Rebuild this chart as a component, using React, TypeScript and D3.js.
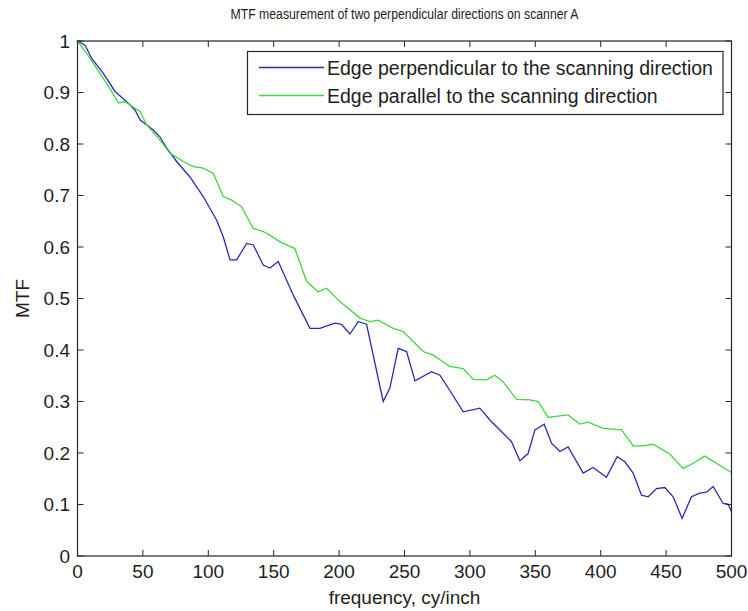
import React from "react";
import * as d3 from "d3";

const title = "MTF measurement of two perpendicular directions on scanner A";
const xLabel = "frequency, cy/inch";
const yLabel = "MTF";
const seriesNames = [
  "Edge perpendicular to the scanning direction",
  "Edge parallel to the scanning direction",
];
const xTicks = [0, 50, 100, 150, 200, 250, 300, 350, 400, 450, 500];
const yTicks = [0, 0.1, 0.2, 0.3, 0.4, 0.5, 0.6, 0.7, 0.8, 0.9, 1];

const perpFreq = [
  0, 5.7, 10.9, 19.7, 28.7, 37.6, 44, 47.8, 52.9, 57.9, 63, 68.2, 75.8, 86, 96.1,
  106.4, 111.4, 116.6, 121.7, 129.3, 134.4, 142, 147.1, 153.5, 164.9, 177.7, 185.3,
  196.8, 201.9, 208.3, 214.6, 221, 233.7, 238.8, 245.2, 251.6, 258, 270.7, 277.1,
  286, 294.9, 307.6, 315.3, 321.6, 331.8, 338.2, 344.5, 349.7, 356.8, 362.4, 368.8,
  375.1, 386.6, 394.2, 404.4, 412.6, 418.5, 424.8, 431.2, 436.3, 442.7, 449, 455.4,
  462.2, 469.4, 475.8, 480.9, 486, 493.6, 497.4, 500,
];
const perpMTF = [
  1.0, 0.992, 0.966, 0.937, 0.902, 0.882, 0.866, 0.847, 0.837, 0.827, 0.814, 0.792,
  0.766, 0.736, 0.698, 0.652, 0.62, 0.575, 0.575, 0.607, 0.604, 0.565, 0.559, 0.572,
  0.507, 0.442, 0.442, 0.452, 0.45, 0.431, 0.455, 0.45, 0.3, 0.326, 0.403, 0.397,
  0.34, 0.358, 0.351, 0.316, 0.28, 0.287, 0.264, 0.248, 0.222, 0.185, 0.199, 0.245,
  0.256, 0.219, 0.203, 0.212, 0.161, 0.172, 0.153, 0.193, 0.183, 0.161, 0.118, 0.115,
  0.131, 0.133, 0.115, 0.073, 0.115, 0.122, 0.124, 0.135, 0.102, 0.101, 0.086,
];

const paraFreq = [
  0, 7, 17.2, 24.8, 31.2, 36.3, 42.6, 47.8, 52.9, 63, 70.7, 80.9, 88.5, 96.1, 103.8,
  111.4, 117.9, 125.5, 134.4, 142, 147.1, 154.8, 166.2, 175.2, 184, 190.5, 200.6, 216,
  223.6, 229.9, 241.4, 249, 264.3, 271.9, 284.7, 294.9, 302.5, 312.7, 319.1, 325.4,
  335.7, 345.8, 352.2, 359.8, 368.8, 375.1, 384.1, 390.4, 401.9, 416, 424.8, 432.4,
  440.1, 452.8, 463, 470.7, 479.6, 488.5, 500,
];
const paraMTF = [
  1.0, 0.976, 0.937, 0.908, 0.88, 0.882, 0.872, 0.863, 0.837, 0.808, 0.782, 0.766,
  0.756, 0.753, 0.743, 0.698, 0.691, 0.678, 0.636, 0.63, 0.623, 0.61, 0.597, 0.533,
  0.513, 0.52, 0.494, 0.462, 0.455, 0.458, 0.442, 0.436, 0.397, 0.39, 0.368, 0.364,
  0.343, 0.342, 0.351, 0.338, 0.304, 0.303, 0.3, 0.269, 0.272, 0.274, 0.256, 0.26,
  0.248, 0.245, 0.214, 0.214, 0.217, 0.198, 0.17, 0.18, 0.194, 0.18, 0.162,
];

const colors = ["#2a2ab4", "#3cd83c"];

const W = 748;
const H = 611;
const L = 77.5, R = 731.5, T = 41, B = 556;
const FONT = "'Liberation Sans', Arial, sans-serif";

export default function App() {
  const x = d3.scaleLinear().domain([0, 500]).range([L, R]);
  const y = d3.scaleLinear().domain([0, 1]).range([B, T]);
  const line = d3.line<[number, number]>().x((d) => x(d[0])).y((d) => y(d[1]));
  const perp: [number, number][] = perpFreq.map((f, i) => [f, perpMTF[i]]);
  const para: [number, number][] = paraFreq.map((f, i) => [f, paraMTF[i]]);
  const tk = 6;
  const axisColor = "#262626";
  const textColor = "#1e1e1e";

  return (
    <svg
      width={W}
      height={H}
      style={{ position: "absolute", left: 0, top: 0, background: "#fff" }}
      fontFamily={FONT}
    >
      <rect x={0} y={0} width={W} height={H} fill="#fff" />
      <text
        x={(L + R) / 2}
        y={19}
        textAnchor="middle"
        fontSize={14}
        textLength={348}
        lengthAdjust="spacingAndGlyphs"
        fill={textColor}
      >
        {title}
      </text>

      <path d={line(perp) || ""} fill="none" stroke={colors[0]} strokeWidth={1.3} />
      <path d={line(para) || ""} fill="none" stroke={colors[1]} strokeWidth={1.3} />

      <rect x={L} y={T} width={R - L} height={B - T} fill="none" stroke={axisColor} strokeWidth={1.2} />
      {xTicks.map((t) => (
        <g key={"x" + t}>
          <line x1={x(t)} x2={x(t)} y1={B} y2={B - tk} stroke={axisColor} strokeWidth={1} />
          <line x1={x(t)} x2={x(t)} y1={T} y2={T + tk} stroke={axisColor} strokeWidth={1} />
          <text x={x(t)} y={B + 22} textAnchor="middle" fontSize={19} fill={textColor}>
            {t}
          </text>
        </g>
      ))}
      {yTicks.map((t) => (
        <g key={"y" + t}>
          <line x1={L} x2={L + tk} y1={y(t)} y2={y(t)} stroke={axisColor} strokeWidth={1} />
          <line x1={R} x2={R - tk} y1={y(t)} y2={y(t)} stroke={axisColor} strokeWidth={1} />
          <text x={70} y={y(t) + 6.8} textAnchor="end" fontSize={19} fill={textColor}>
            {t === 0 || t === 1 ? String(t) : t.toFixed(1)}
          </text>
        </g>
      ))}

      <text x={(L + R) / 2} y={604} textAnchor="middle" fontSize={19} fill={textColor}>
        {xLabel}
      </text>
      <text
        transform={`translate(29,${(T + B) / 2}) rotate(-90)`}
        textAnchor="middle"
        fontSize={19}
        fill={textColor}
      >
        {yLabel}
      </text>

      <rect x={247.5} y={51.5} width={475.5} height={63} fill="#fff" stroke={axisColor} strokeWidth={1.2} />
      {seriesNames.map((n, i) => (
        <g key={n}>
          <line x1={259} x2={324} y1={67.5 + i * 28} y2={67.5 + i * 28} stroke={colors[i]} strokeWidth={1.3} />
          <text x={327} y={67.5 + i * 28 + 7} fontSize={19.5} fill={textColor}>
            {n}
          </text>
        </g>
      ))}
    </svg>
  );
}
